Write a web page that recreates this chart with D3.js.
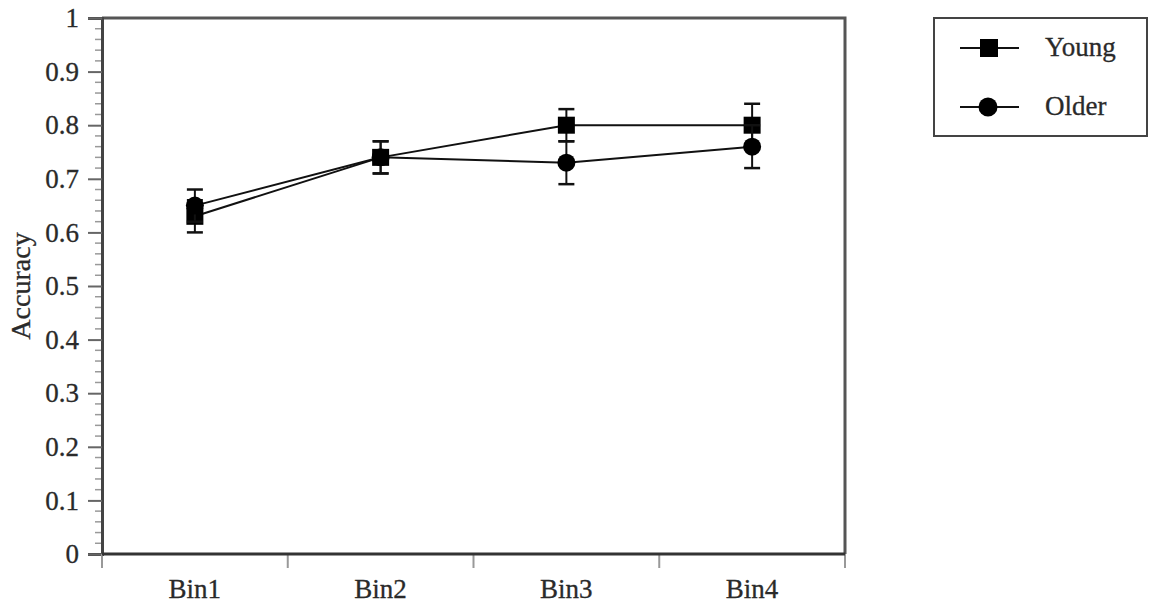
<!DOCTYPE html>
<html>
<head>
<meta charset="utf-8">
<script src="https://cdn.jsdelivr.net/npm/d3@7"></script>
<style>
  body { margin: 0; background: #fff; }
  text { font-family: "Liberation Serif", "Times New Roman", serif; fill: #2a2a2a; stroke: #2a2a2a; stroke-width: 0.3px; }
</style>
</head>
<body>
<script>
const bins = ["Bin1", "Bin2", "Bin3", "Bin4"];
const young = [0.63, 0.74, 0.80, 0.80];
const youngErr = [0.03, 0.03, 0.03, 0.04];
const older = [0.65, 0.74, 0.73, 0.76];
const olderErr = [0.03, 0.03, 0.04, 0.04];
const yTicks = [0, 0.1, 0.2, 0.3, 0.4, 0.5, 0.6, 0.7, 0.8, 0.9, 1];

const width = 1149, height = 611;
const margin = {top: 18, right: 304, bottom: 57, left: 102};
const fs = 27;

const svg = d3.select("body")
    .append("svg")
    .attr("width", width)
    .attr("height", height);

const x = d3.scaleBand()
    .domain(bins)
    .range([margin.left, width - margin.right]);

const y = d3.scaleLinear()
    .domain([0, 1])
    .range([height - margin.bottom, margin.top]);

// frame (top + right)
svg.append("path")
    .attr("d", `M${margin.left},${margin.top}H${width - margin.right}V${height - margin.bottom}`)
    .attr("fill", "none")
    .attr("stroke", "#555")
    .attr("stroke-width", 3);

// minor y ticks
const minor = d3.range(0, 1.0001, 0.02).filter(v => Math.abs(v * 10 - Math.round(v * 10)) > 1e-6);
svg.append("g")
    .selectAll("line")
    .data(minor)
    .join("line")
    .attr("x1", margin.left - 7)
    .attr("x2", margin.left)
    .attr("y1", d => y(d))
    .attr("y2", d => y(d))
    .attr("stroke", "#999")
    .attr("stroke-width", 1.5);

// y axis
const yAxis = svg.append("g")
    .attr("transform", `translate(${margin.left},0)`)
    .call(d3.axisLeft(y).tickValues(yTicks).tickFormat(d => String(+d.toFixed(1))).tickSize(14).tickPadding(9));
yAxis.select(".domain").attr("stroke", "#444").attr("stroke-width", 3);
yAxis.selectAll(".tick line").attr("stroke", "#666").attr("stroke-width", 2);
yAxis.selectAll(".tick text")
    .attr("font-size", fs)
    .attr("font-family", "Liberation Serif")
    .attr("fill", "#2a2a2a");

// x axis ticks at band boundaries
const boundaries = bins.map(b => x(b)).concat([x(bins[bins.length - 1]) + x.bandwidth()]);
svg.append("g")
    .selectAll("line")
    .data(boundaries)
    .join("line")
    .attr("x1", d => d)
    .attr("x2", d => d)
    .attr("y1", y(0))
    .attr("y2", y(0) + 14)
    .attr("stroke", "#999")
    .attr("stroke-width", 2);

svg.append("line")
    .attr("x1", margin.left)
    .attr("x2", width - margin.right)
    .attr("y1", y(0))
    .attr("y2", y(0))
    .attr("stroke", "#333")
    .attr("stroke-width", 3);

svg.append("g")
    .selectAll("text")
    .data(bins)
    .join("text")
    .attr("x", d => x(d) + x.bandwidth() / 2)
    .attr("y", y(0) + 44)
    .attr("text-anchor", "middle")
    .attr("font-size", fs)
    .text(d => d);

// y label
svg.append("text")
    .attr("transform", `translate(30,${(y(0) + y(1)) / 2}) rotate(-90)`)
    .attr("text-anchor", "middle")
    .attr("font-size", 28)
    .text("Accuracy");

const cx = d => x(d) + x.bandwidth() / 2;

const line = d3.line()
    .x(d => cx(d.bin))
    .y(d => y(d.v));

const series = [
    {name: "Young", values: young, err: youngErr, shape: "square"},
    {name: "Older", values: older, err: olderErr, shape: "circle"}
];

series.forEach(s => {
    const pts = bins.map((b, i) => ({bin: b, v: s.values[i], e: s.err[i]}));
    const g = svg.append("g");

    g.append("path")
        .datum(pts)
        .attr("d", line)
        .attr("fill", "none")
        .attr("stroke", "#111")
        .attr("stroke-width", 2);

    // error bars
    const eb = g.selectAll(".eb")
        .data(pts)
        .join("g");
    eb.append("line")
        .attr("x1", d => cx(d.bin)).attr("x2", d => cx(d.bin))
        .attr("y1", d => y(d.v - d.e)).attr("y2", d => y(d.v + d.e))
        .attr("stroke", "#111").attr("stroke-width", 2);
    [-1, 1].forEach(sign => {
        eb.append("line")
            .attr("x1", d => cx(d.bin) - 8).attr("x2", d => cx(d.bin) + 8)
            .attr("y1", d => y(d.v + sign * d.e)).attr("y2", d => y(d.v + sign * d.e))
            .attr("stroke", "#111").attr("stroke-width", 2.5);
    });

    if (s.shape === "square") {
        g.selectAll("rect")
            .data(pts)
            .join("rect")
            .attr("x", d => cx(d.bin) - 8.5)
            .attr("y", d => y(d.v) - 8.5)
            .attr("width", 17)
            .attr("height", 17)
            .attr("fill", "#000");
    } else {
        g.selectAll("circle")
            .data(pts)
            .join("circle")
            .attr("cx", d => cx(d.bin))
            .attr("cy", d => y(d.v))
            .attr("r", 9)
            .attr("fill", "#000");
    }
});

// legend
const legend = svg.append("g");
legend.append("rect")
    .attr("x", 934)
    .attr("y", 18)
    .attr("width", 213)
    .attr("height", 118)
    .attr("fill", "#fff")
    .attr("stroke", "#444")
    .attr("stroke-width", 2);

series.forEach((s, i) => {
    const ly = 48 + i * 59;
    legend.append("line")
        .attr("x1", 960).attr("x2", 1019)
        .attr("y1", ly).attr("y2", ly)
        .attr("stroke", "#111").attr("stroke-width", 2);
    if (s.shape === "square") {
        legend.append("rect")
            .attr("x", 980).attr("y", ly - 9)
            .attr("width", 18).attr("height", 18)
            .attr("fill", "#000");
    } else {
        legend.append("circle")
            .attr("cx", 988).attr("cy", ly)
            .attr("r", 9.5).attr("fill", "#000");
    }
    legend.append("text")
        .attr("x", 1045)
        .attr("y", ly + 8)
        .attr("font-size", 27)
        .text(s.name);
});
</script>
</body>
</html>
